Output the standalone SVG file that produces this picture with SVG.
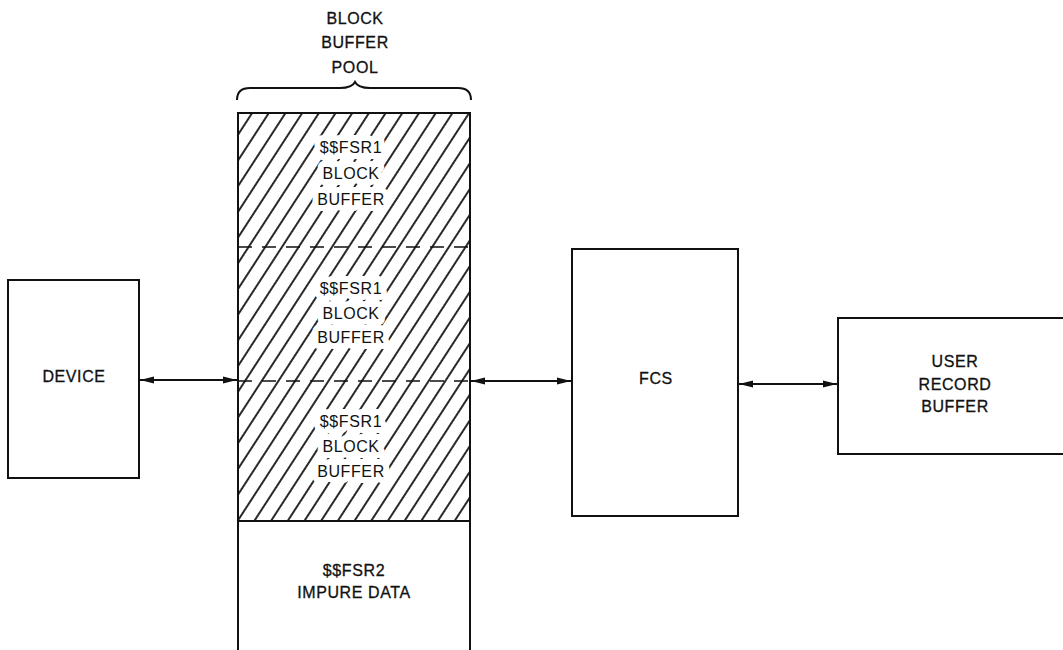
<svg xmlns="http://www.w3.org/2000/svg" width="1063" height="650" viewBox="0 0 1063 650">
<style>
text{font-family:"Liberation Sans",Arial,sans-serif;font-size:16px;letter-spacing:0.6px;fill:#111;stroke:#111;stroke-width:0.3px;text-anchor:middle}
.box{fill:none;stroke:#111;stroke-width:2}
text.halo{paint-order:stroke;stroke:#fff;stroke-width:12px;stroke-linejoin:round}
.conn{stroke:#111;stroke-width:2;fill:none;marker-start:url(#ah);marker-end:url(#ah)}
.dash{stroke:#111;stroke-width:1.6;stroke-dasharray:14 10;fill:none}
</style>
<defs>
<pattern id="hatch" patternUnits="userSpaceOnUse" width="14" height="14" patternTransform="rotate(33)">
<line x1="7" y1="0" x2="7" y2="14" stroke="#111" stroke-width="1.8"/>
</pattern>
<marker id="ah" markerUnits="userSpaceOnUse" viewBox="0 0 14 8" refX="14" refY="4" markerWidth="14" markerHeight="8" orient="auto-start-reverse">
<path d="M0,0.5 L14,4 L0,7.5 Z" fill="#111"/>
</marker>
</defs>
<g id="pool-label">
<text x="355" y="24">BLOCK</text>
<text x="355" y="48">BUFFER</text>
<text x="355" y="73">POOL</text>
<path d="M237,100 Q237,88 250,88 L340,88 Q352,88 355,82 Q358,88 370,88 L458,88 Q471,88 471,100" fill="none" stroke="#111" stroke-width="2"/>
</g>
<g id="pool">
<rect x="238" y="113" width="232" height="408" fill="url(#hatch)"/>
<line class="dash" x1="238" y1="247" x2="470" y2="247"/>
<line class="dash" x1="238" y1="381" x2="470" y2="381"/>
<path d="M238,650 L238,113 L470,113 L470,650 M238,521 L470,521" class="box"/>
<text class="halo" x="351" y="153">$$FSR1</text>
<text class="halo" x="351" y="179">BLOCK</text>
<text class="halo" x="351" y="205">BUFFER</text>
<text class="halo" x="351" y="294">$$FSR1</text>
<text class="halo" x="351" y="319">BLOCK</text>
<text class="halo" x="351" y="343">BUFFER</text>
<text class="halo" x="351" y="427">$$FSR1</text>
<text class="halo" x="351" y="452">BLOCK</text>
<text class="halo" x="351" y="477">BUFFER</text>
<text x="354" y="576">$$FSR2</text>
<text x="354" y="598">IMPURE DATA</text>
</g>
<g id="device">
<rect class="box" x="8" y="280" width="131" height="198"/>
<text x="74" y="382">DEVICE</text>
</g>
<g id="fcs">
<rect class="box" x="572" y="249" width="166" height="267"/>
<text x="656" y="384">FCS</text>
</g>
<g id="user-record-buffer">
<rect class="box" x="838" y="318" width="230" height="136"/>
<text x="955" y="367">USER</text>
<text x="955" y="390">RECORD</text>
<text x="955" y="412">BUFFER</text>
</g>
<g id="connectors">
<line class="conn" x1="140" y1="380" x2="237" y2="380"/>
<line class="conn" x1="471" y1="381" x2="571" y2="381"/>
<line class="conn" x1="739" y1="384" x2="837" y2="384"/>
</g>
</svg>
